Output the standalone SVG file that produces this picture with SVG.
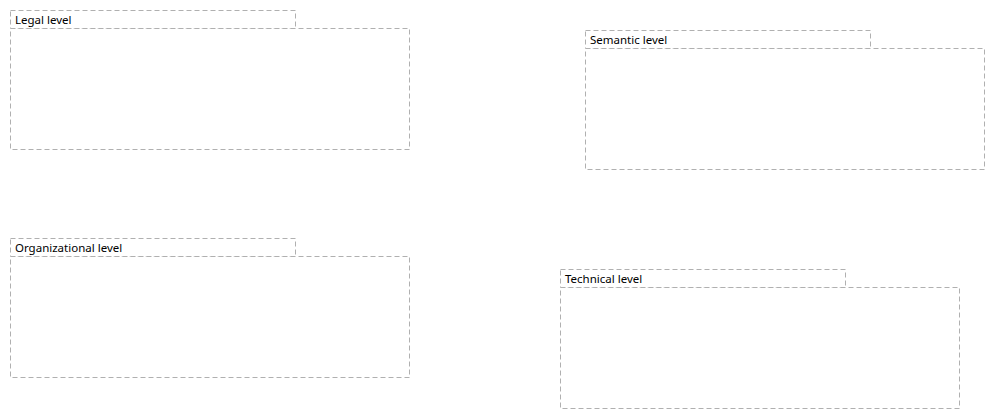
<svg xmlns="http://www.w3.org/2000/svg" width="995" height="419" viewBox="0 0 995 419">
<style>
.b{fill:#fff;stroke:#b0b0b0;stroke-width:1;stroke-dasharray:5 3}
.t{font-family:"Noto Sans","Open Sans",sans-serif;font-size:11.5px;fill:#000}
</style>
<rect width="995" height="419" fill="#fff"/>
<g id="legal">
<rect class="b" x="10.5" y="10.5" width="285" height="18"/>
<rect class="b" x="10.5" y="28.5" width="399" height="121"/>
<text class="t" x="15" y="24">Legal level</text>
</g>
<g id="semantic">
<rect class="b" x="585.5" y="30.5" width="285" height="18"/>
<rect class="b" x="585.5" y="48.5" width="399" height="121"/>
<text class="t" x="590" y="44">Semantic level</text>
</g>
<g id="organizational">
<rect class="b" x="10.5" y="238.5" width="285" height="18"/>
<rect class="b" x="10.5" y="256.5" width="399" height="121"/>
<text class="t" x="15" y="252">Organizational level</text>
</g>
<g id="technical">
<rect class="b" x="560.5" y="269.5" width="285" height="18"/>
<rect class="b" x="560.5" y="287.5" width="399" height="121"/>
<text class="t" x="565" y="283">Technical level</text>
</g>
<g id="connectors"></g>
</svg>
